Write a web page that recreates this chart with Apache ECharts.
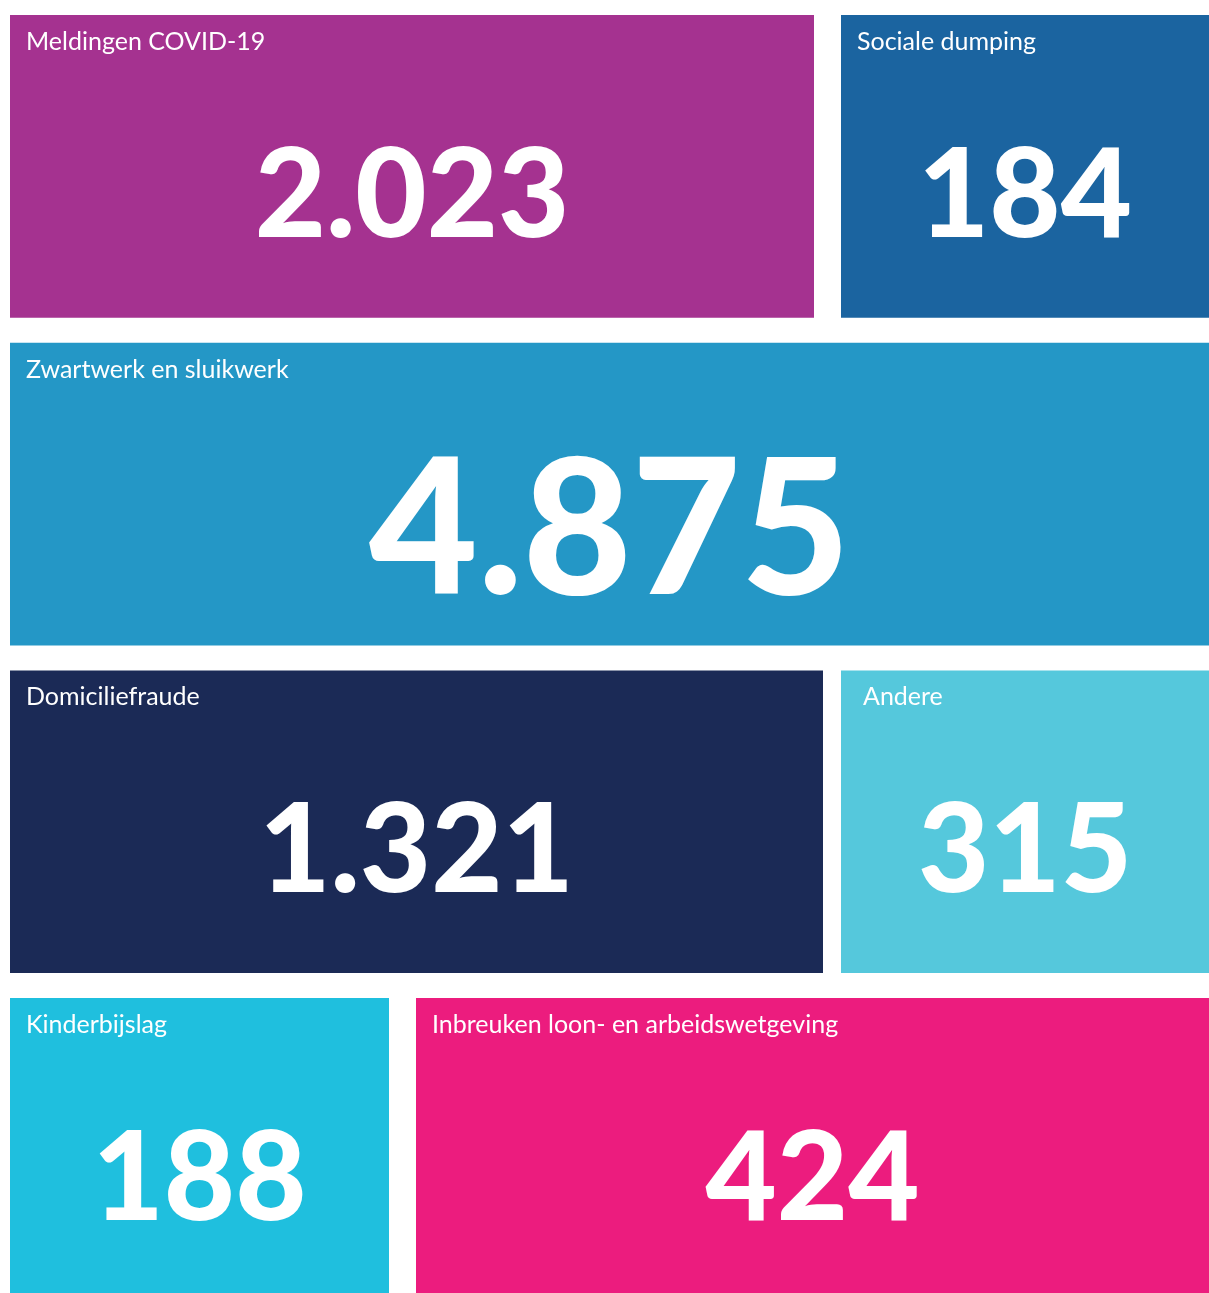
<!DOCTYPE html>
<html style="height: 100%">
<head>
    <meta charset="utf-8">
    <script type="text/javascript" src="https://cdn.jsdelivr.net/npm/echarts@6/dist/echarts.min.js"></script>
</head>
<body style="height: 100%; margin: 0; background: #fff">
<div id="container" style="width: 1209px; height: 1293px"></div>

<script type="text/javascript">
    // data
    var labels = ["Meldingen COVID-19", "Sociale dumping", "Zwartwerk en sluikwerk",
        "Domiciliefraude", "Andere", "Kinderbijslag", "Inbreuken loon- en arbeidswetgeving"];
    var values = [2023, 184, 4875, 1321, 315, 188, 424];

    // layout of the tiles: row, start and end on the x scale (0..1209)
    var tileRow = [0, 0, 1, 2, 2, 3, 3];
    var tileStart = [10, 841, 10, 10, 841, 10, 416];
    var tileEnd = [814, 1209, 1209, 823, 1209, 389, 1209];
    var tileColors = ["#a53290", "#1b64a0", "#2497c6", "#1b2a56", "#55c8dc", "#1fbfde", "#ec1c7e"];
    var titlePad = [16, 16, 16, 16, 22, 16, 16];
    var numberSize = [123, 123, 188, 123, 123, 123, 123];

    function fmt(v) {
        return String(v).replace(/\B(?=(\d{3})+(?!\d))/g, ".");
    }

    var seriesData = [];
    for (var i = 0; i < values.length; i++) {
        seriesData.push({
            value: [tileStart[i], tileEnd[i], tileRow[i], values[i]],
            name: labels[i],
            itemStyle: {color: tileColors[i]}
        });
    }

    var dom = document.getElementById("container");
    var myChart = echarts.init(dom);

    function renderItem(params, api) {
        var idx = params.dataIndex;
        var p0 = api.coord([api.value(0), api.value(2)]);
        var p1 = api.coord([api.value(1), api.value(2) + 1]);
        var x = p0[0], y = p0[1];
        var w = p1[0] - p0[0];
        var h = p1[1] - p0[1] - 25;
        var big = numberSize[idx];
        return {
            type: "group",
            children: [{
                type: "rect",
                shape: {x: x, y: y, width: w, height: h},
                style: {fill: tileColors[idx]}
            }, {
                type: "text",
                style: {
                    x: x + titlePad[idx], y: y + 27,
                    text: labels[idx],
                    fill: "#fff",
                    font: "25px Lato",
                    verticalAlign: "middle"
                }
            }, {
                type: "text",
                style: {
                    x: x + w / 2, y: y + 151 + (big > 150 ? 40 : 31),
                    text: fmt(api.value(3)),
                    fill: "#fff",
                    font: "900 " + big + "px Lato",
                    align: "center",
                    verticalAlign: "middle"
                }
            }]
        };
    }

    var option = {
        animation: false,
        grid: {left: 0, top: 15, width: 1209, height: 1278},
        xAxis: {type: "value", min: 0, max: 1209, show: false},
        yAxis: {type: "value", min: 0, max: 3.9, inverse: true, show: false},
        series: [{
            type: "custom",
            renderItem: renderItem,
            data: seriesData,
            clip: false
        }]
    };

    myChart.setOption(option);
</script>
</body>
</html>
